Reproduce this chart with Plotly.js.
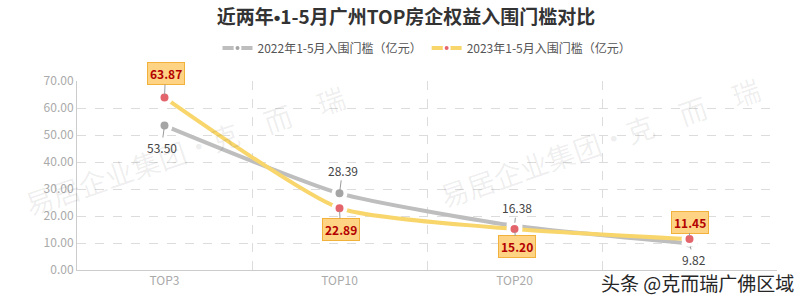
<!DOCTYPE html>
<html>
<head>
<meta charset="utf-8">
<script src="https://cdn.plot.ly/plotly-3.0.1.min.js"></script>
<style>html,body{margin:0;padding:0;background:#fff;}#chart{width:812px;height:300px;}</style>
</head>
<body>
<div id="chart"></div>
<script>
// ---- data ----
var categories = ["TOP3", "TOP10", "TOP20", "TOP30"];
var tickLabels = ["TOP3", "TOP10", "TOP20", ""];   // 4th label hidden under the source mark in the reference
var v2022 = [53.50, 28.39, 16.38, 9.82];
var v2023 = [63.87, 22.89, 15.20, 11.45];
var name2022 = "2022年1-5月入围门槛（亿元）";
var name2023 = "2023年1-5月入围门槛（亿元）";
var titleA = "近两年";
var titleB = "1-5月广州TOP房企权益入围门槛对比";
var sourceText = "头条 @克而瑞广佛区域";
var watermarkText = "易居企业集团·克　而　瑞";

// label offsets (pixels) – style only
var off2022 = [[-3, 22], [3, -23], [2, -18], [4, 16]];
var off2023 = [[1, -24], [1, 21], [2, 18], [0, -17]];

var FONT = "'Noto Sans CJK SC', 'Noto Sans', sans-serif";
var GRAY_LINE = "#bebebe", GRAY_DOT = "#a5a5a5", YEL_LINE = "#f8d66c", RED_DOT = "#e4646c";

var traces = [
  {
    x: categories, y: v2022, name: name2022, type: "scatter", mode: "lines+markers", showlegend: false,
    line: {color: GRAY_LINE, width: 4, shape: "spline", smoothing: 0.55},
    marker: {color: GRAY_DOT, size: 12, line: {color: "#ffffff", width: 4}},
    hoverinfo: "skip"
  },
  {
    x: categories, y: v2023, name: name2023, type: "scatter", mode: "lines+markers", showlegend: false,
    line: {color: YEL_LINE, width: 4, shape: "spline", smoothing: 0.55},
    marker: {color: RED_DOT, size: 12, line: {color: "#ffffff", width: 4}},
    hoverinfo: "skip"
  },
  // legend entries (smaller symbols, like the reference legend); no data drawn
  {
    x: [null], y: [null], name: name2022, type: "scatter", mode: "lines+markers", showlegend: true,
    line: {color: GRAY_LINE, width: 4}, marker: {color: GRAY_DOT, size: 6, line: {color: "#ffffff", width: 2}}
  },
  {
    x: [null], y: [null], name: name2023, type: "scatter", mode: "lines+markers", showlegend: true,
    line: {color: YEL_LINE, width: 4}, marker: {color: RED_DOT, size: 6, line: {color: "#ffffff", width: 2}}
  }
];

var pw = 812 - 77 - 35, ph = 300 - 81 - 30;
function px(x) { return (x - 77) / pw; }
function py(y) { return (270 - y) / ph; }

var annotations = [];
// faint watermarks (drawn first, beneath labels)
[[185, 150], [600, 142]].forEach(function (w) {
  annotations.push({
    x: px(w[0]), y: py(w[1]), xref: "paper", yref: "paper", showarrow: false,
    xanchor: "center", yanchor: "middle",
    text: watermarkText, textangle: -19,
    font: {family: FONT, size: 28, color: "rgba(0,0,0,0.07)"}
  });
});
v2022.forEach(function (v, i) {
  annotations.push({
    x: categories[i], y: v, xref: "x", yref: "y",
    text: v.toFixed(2), showarrow: true, arrowhead: 0, arrowwidth: 1,
    arrowcolor: "#9a9a9a", standoff: 3,
    ax: off2022[i][0], ay: off2022[i][1],
    font: {family: FONT, size: 12, color: "#444"}
  });
});
v2023.forEach(function (v, i) {
  annotations.push({
    x: categories[i], y: v, xref: "x", yref: "y",
    text: "<b>" + v.toFixed(2) + "</b>", showarrow: true, arrowhead: 0, arrowwidth: 1,
    arrowcolor: "#9a9a9a", standoff: 3,
    ax: off2023[i][0], ay: off2023[i][1],
    bgcolor: "#fed383", bordercolor: "#f1b13a", borderwidth: 1, borderpad: 2,
    font: {family: FONT, size: 12, color: "#b30000"}
  });
});
// source text
annotations.push({
  x: px(697), y: py(282), xref: "paper", yref: "paper", showarrow: false,
  text: sourceText, xanchor: "center", yanchor: "middle",
  font: {family: FONT, size: 19, color: "#262626"}
});

var layout = {
  width: 812, height: 300,
  margin: {l: 77, r: 35, t: 81, b: 30},
  paper_bgcolor: "#ffffff", plot_bgcolor: "#ffffff",
  showlegend: true,
  title: {
    text: "<b>" + titleA + "<span style=\"font-family:'Liberation Sans',Arial\">•</span>" + titleB + "</b>",
    x: 0.5, xanchor: "center",
    y: 0.943, yref: "container", yanchor: "middle",
    font: {family: FONT, size: 19, color: "#333333"}
  },
  legend: {
    orientation: "h", x: 0.5, xanchor: "center", y: py(48), yanchor: "middle",
    font: {family: FONT, size: 12, color: "#555"},
    bgcolor: "rgba(0,0,0,0)"
  },
  xaxis: {
    type: "category", categoryorder: "array", categoryarray: categories,
    range: [-0.5, categories.length - 0.5],
    tickvals: categories, ticktext: tickLabels,
    tickson: "boundaries", showgrid: true, gridcolor: "#dcdcdc", griddash: "dash",
    showline: true, linecolor: "#cccccc", linewidth: 1, ticks: "",
    tickfont: {family: FONT, size: 12, color: "#aaaaaa"}, fixedrange: true, zeroline: false
  },
  yaxis: {
    range: [0, 70], dtick: 10, tickformat: ".2f",
    showgrid: true, gridcolor: "#dcdcdc", griddash: "dash",
    showline: true, linecolor: "#cccccc", linewidth: 1, ticks: "",
    tickfont: {family: FONT, size: 12, color: "#aaaaaa"}, zeroline: false, fixedrange: true
  },
  annotations: annotations
};

Plotly.newPlot("chart", traces, layout, {displayModeBar: false, staticPlot: true});
</script>
</body>
</html>
